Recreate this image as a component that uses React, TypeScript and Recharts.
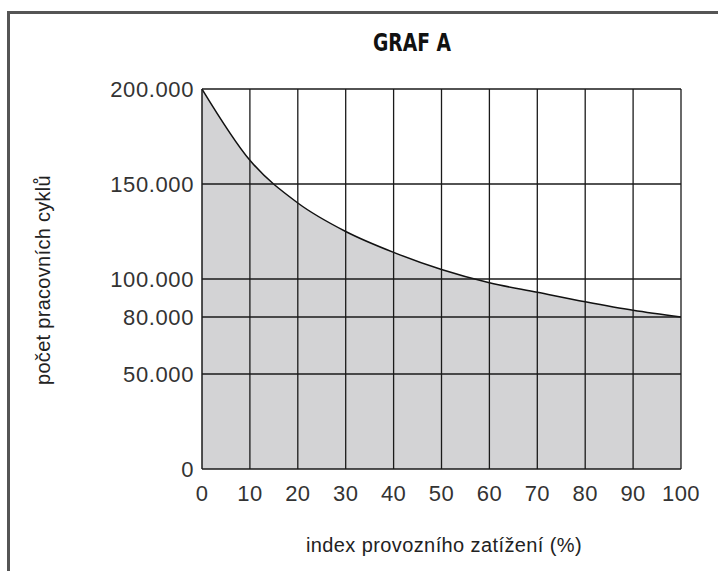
import React from 'react';
import { AreaChart, Area, XAxis, YAxis, ReferenceLine } from 'recharts';

// load index (%) vs. number of working cycles
const loadIndex = [0, 10, 20, 30, 40, 50, 60, 70, 80, 90, 100];
const cycles = [200000, 162500, 140000, 125000, 114000, 105000, 98000, 93000, 88000, 83500, 80000];
const yTicks = [0, 50000, 80000, 100000, 150000, 200000];
const xTicks = [0, 10, 20, 30, 40, 50, 60, 70, 80, 90, 100];

const chartTitle = 'GRAF A';
const xTitle = 'index provozního zatížení (%)';
const yTitle = 'počet pracovních cyklů';

const data = loadIndex.map((x, i) => ({ x, cycles: cycles[i] }));

const font = '"Liberation Sans", Arial, sans-serif';
const gridColor = '#1a1a1a';

const fmt = (v: number) => String(v).replace(/\B(?=(\d{3})+(?!\d))/g, '.');

export default function App() {
  return (
    <div style={{ position: 'relative', width: 718, height: 571, background: '#fff', overflow: 'hidden' }}>
      <style>{'body{margin:0}'}</style>
      {/* frame, cropped on the right and bottom */}
      <div
        style={{
          position: 'absolute',
          left: 7,
          top: 11,
          width: 720,
          height: 570,
          borderTop: '3px solid #555',
          borderLeft: '3px solid #555',
          boxSizing: 'border-box',
        }}
      />
      <AreaChart width={718} height={571} data={data} margin={{ top: 89, right: 37, bottom: 72, left: 0 }}>
        <XAxis
          type="number"
          dataKey="x"
          domain={[0, 100]}
          ticks={xTicks}
          interval={0}
          tickLine={false}
          tickMargin={10}
          height={30}
          axisLine={{ stroke: gridColor, strokeWidth: 1.5 }}
          tick={{ fill: '#333', fontSize: 22, fontFamily: font, letterSpacing: 0.4 }}
        />
        <YAxis
          type="number"
          domain={[0, 200000]}
          ticks={yTicks}
          interval={0}
          width={202}
          tickLine={false}
          tickFormatter={fmt}
          axisLine={{ stroke: gridColor, strokeWidth: 1.5 }}
          tick={{ fill: '#333', fontSize: 22, fontFamily: font, letterSpacing: 0.6 }}
        />
        <Area
          type="monotone"
          dataKey="cycles"
          stroke="#111"
          strokeWidth={1.5}
          fill="#d3d3d5"
          fillOpacity={1}
          dot={false}
          activeDot={false}
          isAnimationActive={false}
        />
        {xTicks.filter((v) => v > 0).map((v) => (
          <ReferenceLine key={'x' + v} x={v} stroke={gridColor} strokeWidth={1.3} />
        ))}
        {yTicks.filter((v) => v > 0).map((v) => (
          <ReferenceLine key={'y' + v} y={v} stroke={gridColor} strokeWidth={1.3} />
        ))}
      </AreaChart>
      <svg width={718} height={571} style={{ position: 'absolute', left: 0, top: 0, pointerEvents: 'none' }}>
        <text
          x={412}
          y={51}
          textAnchor="middle"
          fontFamily='"Liberation Sans Narrow", "DejaVu Sans Condensed", "Liberation Sans", sans-serif'
          fontWeight="bold"
          fontSize={25}
          fill="#111"
          textLength={78}
          lengthAdjust="spacingAndGlyphs"
        >
          {chartTitle}
        </text>
        <text
          x={444}
          y={552}
          textAnchor="middle"
          fontFamily={font}
          fontSize={20}
          fill="#222"
          letterSpacing={0.4}
        >
          {xTitle}
        </text>
        <text
          x={50}
          y={280}
          textAnchor="middle"
          fontFamily={font}
          fontSize={20}
          fill="#222"
          letterSpacing={0.3}
          transform="rotate(-90 50 280)"
        >
          {yTitle}
        </text>
      </svg>
    </div>
  );
}
